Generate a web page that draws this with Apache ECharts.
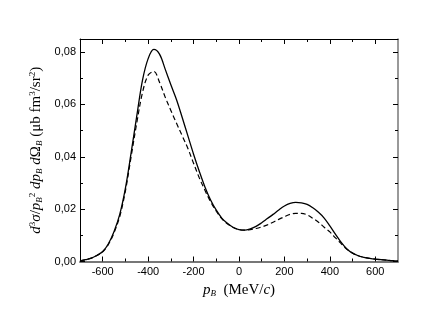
<!DOCTYPE html>
<html>
<head>
<meta charset="utf-8">
<script src="https://cdn.jsdelivr.net/npm/echarts@6/dist/echarts.min.js"></script>
<style>html,body{margin:0;padding:0;background:#fff}#c{width:436px;height:323px}</style>
</head>
<body>
<div id="c"></div>
<script>
const xValues = [-700,-675,-650,-625,-600,-575,-550,-525,-500,-475,-450,-425,-400,-375,-350,-325,-300,-275,-250,-225,-200,-175,-150,-125,-100,-75,-50,-25,0,25,50,75,100,125,150,175,200,225,250,275,300,325,350,375,400,425,450,475,500,525,550,575,600,625,650,675,700];
const solidValues = [0.0002,0.0007,0.0013,0.0024,0.0038,0.0068,0.0115,0.0180,0.0280,0.0415,0.0556,0.0692,0.0775,0.0810,0.0792,0.0735,0.0675,0.0618,0.0550,0.0480,0.0410,0.0345,0.0285,0.0235,0.0196,0.0165,0.0145,0.0130,0.0122,0.0120,0.0125,0.0134,0.0148,0.0164,0.0180,0.0197,0.0212,0.0222,0.0226,0.0224,0.0218,0.0205,0.0188,0.0166,0.0136,0.0104,0.0073,0.0048,0.0032,0.0022,0.0016,0.0012,0.0009,0.0007,0.0005,0.0003,0.0002];
const dashedValues = [0.0002,0.0007,0.0013,0.0023,0.0037,0.0065,0.0110,0.0172,0.0270,0.0400,0.0530,0.0645,0.0712,0.0726,0.0685,0.0628,0.0577,0.0528,0.0480,0.0432,0.0375,0.0320,0.0272,0.0228,0.0192,0.0163,0.0143,0.0130,0.0122,0.0120,0.0122,0.0126,0.0132,0.0140,0.0150,0.0161,0.0171,0.0180,0.0184,0.0184,0.0178,0.0165,0.0150,0.0131,0.0113,0.0090,0.0068,0.0047,0.0032,0.0022,0.0016,0.0012,0.0009,0.0007,0.0005,0.0003,0.0002];
const xMajorTicks = [-600,-400,-200,0,200,400,600];
const xMinorTicks = [-500,-300,-100,100,300,500];
const yMajorTicks = [0,0.02,0.04,0.06,0.08];
const yMinorTicks = [0.01,0.03,0.05,0.07];
const xMin = -700, xMax = 700, yMin = 0, yMax = 0.085;

const chart = echarts.init(document.getElementById('c'), null, {renderer:'canvas'});
const serif = 'Liberation Serif';
const sans = 'Liberation Sans';
const gridRect = {left:80, right:38, top:39, bottom:61.5};
function xAx(grid, pos, ticks, len, showLabel, lineColor, lineWidth, extra) {
  return Object.assign({
    type:'value', gridIndex:grid, position:pos, min:xMin, max:xMax,
    splitLine:{show:false},
    axisLine:{show: lineColor !== null, onZero:false, lineStyle:{color:lineColor || '#000', width:lineWidth}},
    axisTick:{show:true, inside:true, length:len, customValues:ticks, lineStyle:{color:'#000', width:1}},
    axisLabel:{show:showLabel, customValues:xMajorTicks, color:'#000', fontFamily:sans, fontSize:11, margin:5}
  }, extra || {});
}
function yAx(grid, pos, ticks, len, showLabel, lineColor, lineWidth, extra) {
  return Object.assign({
    type:'value', gridIndex:grid, position:pos, min:yMin, max:yMax,
    splitLine:{show:false},
    axisLine:{show: lineColor !== null, onZero:false, lineStyle:{color:lineColor || '#000', width:lineWidth}},
    axisTick:{show:true, inside:true, length:len, customValues:ticks, lineStyle:{color:'#000', width:1}},
    axisLabel:{show:showLabel, customValues:yMajorTicks, color:'#000', fontFamily:sans, fontSize:11, margin:4,
      formatter: v => v.toFixed(2).replace('.', ',')}
  }, extra || {});
}
const richStyles = {
  i:{fontFamily:serif, fontStyle:'italic', fontSize:15, color:'#000'},
  r:{fontFamily:serif, fontSize:15, color:'#000'},
  sup:{fontFamily:serif, fontSize:9, color:'#000', padding:[0,0,7,0]},
  sub:{fontFamily:serif, fontStyle:'italic', fontSize:9, color:'#000', padding:[7,0,0,0]}
};
const option = {
  animation:false,
  backgroundColor:'#fff',
  grid:[Object.assign({}, gridRect), Object.assign({}, gridRect)],
  xAxis:[
    xAx(0,'bottom',xMajorTicks,5,true,'#777',2,{
      name:'{i|p}{sub|B}{r|  (MeV/}{i|c}{r|)}', nameLocation:'middle', nameGap:16,
      nameTextStyle:{rich:richStyles}
    }),
    xAx(0,'top',xMajorTicks,5,false,'#000',1),
    xAx(1,'bottom',xMinorTicks,3,false,null,1),
    xAx(1,'top',xMinorTicks,3,false,null,1)
  ],
  yAxis:[
    yAx(0,'left',yMajorTicks,5,true,'#000',1,{
      name:'{i|d}{sup|3}{i|σ}{r|/}{i|p}{sub|B}{sup|2}{r| }{i|dp}{sub|B}{r| }{i|d}{r|Ω}{sub|B}{r| (μb fm}{sup|3}{r|/sr}{sup|2}{r|)}',
      nameLocation:'middle', nameRotate:90, nameGap:35,
      nameTextStyle:{rich:richStyles}
    }),
    yAx(0,'right',yMajorTicks,5,false,'#777',1.5),
    yAx(1,'left',yMinorTicks,3,false,null,1),
    yAx(1,'right',yMinorTicks,3,false,null,1)
  ],
  series:[
    {type:'line', xAxisIndex:0, yAxisIndex:0, smooth:0.35, showSymbol:false,
     lineStyle:{color:'#000', width:1.3},
     data: xValues.map((x,i)=>[x, solidValues[i]])},
    {type:'line', xAxisIndex:0, yAxisIndex:0, smooth:0.35, showSymbol:false,
     lineStyle:{color:'#000', width:1.2, type:[5,3]},
     data: xValues.map((x,i)=>[x, dashedValues[i]])}
  ]
};
chart.setOption(option);
</script>
</body>
</html>
